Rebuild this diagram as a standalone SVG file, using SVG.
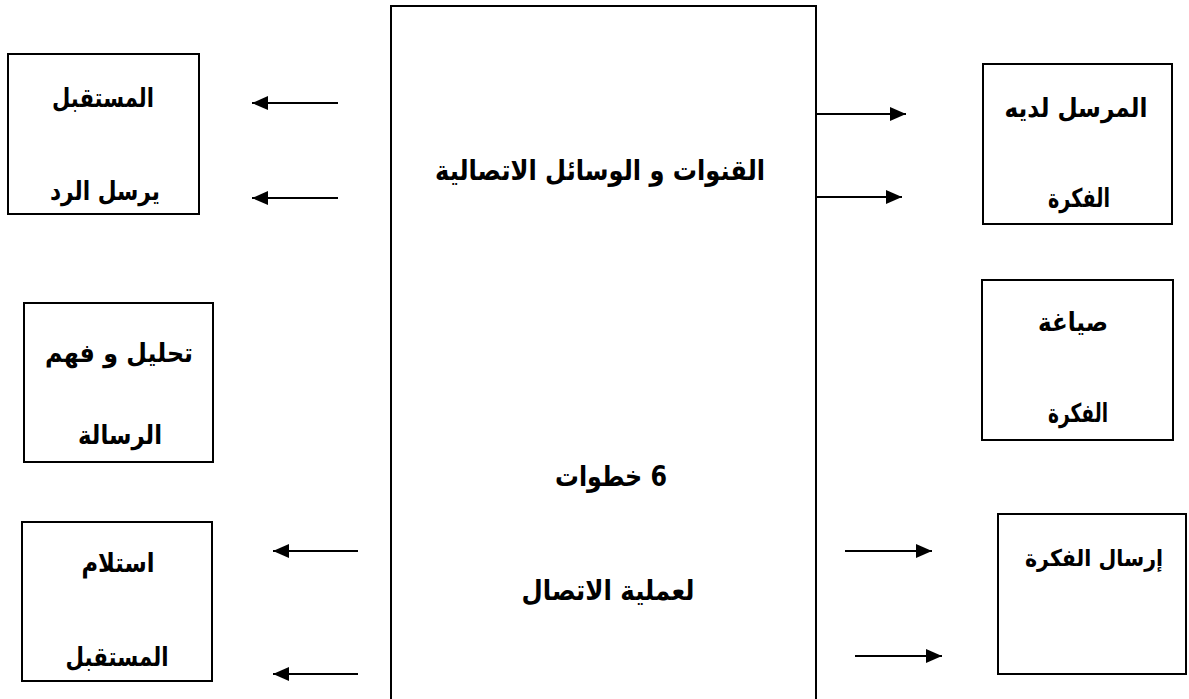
<svg xmlns="http://www.w3.org/2000/svg" width="1189" height="699" viewBox="0 0 1189 699">
  <style>
    .box { fill: #ffffff; stroke: #000000; stroke-width: 2; }
    .lbl { font-family: "DejaVu Sans", "Noto Sans", sans-serif; font-weight: bold; font-size: 26px; fill: #000000; text-anchor: middle; direction: rtl; unicode-bidi: embed; }
    .big { font-size: 28px; }
    .conn line { stroke: #000000; stroke-width: 2; marker-end: url(#head); }
  </style>
  <defs>
    <marker id="head" markerUnits="userSpaceOnUse" markerWidth="16" markerHeight="14" refX="16" refY="7" orient="auto">
      <path d="M0,0 L16,7 L0,14 Z" fill="#000000"/>
    </marker>
  </defs>
  <rect width="1189" height="699" fill="#ffffff"/>

  <!-- central channel block, open at the bottom edge -->
  <g id="channels">
    <rect class="box" x="391" y="6" width="425" height="710"/>
    <text class="lbl big" x="600" y="180" textLength="330" lengthAdjust="spacingAndGlyphs">القنوات و الوسائل الاتصالية</text>
    <text class="lbl big" x="611" y="486" textLength="112" lengthAdjust="spacingAndGlyphs">6 خطوات</text>
    <text class="lbl big" x="608" y="600" textLength="173" lengthAdjust="spacingAndGlyphs">لعملية الاتصال</text>
  </g>

  <g id="receiver-reply">
    <rect class="box" x="8" y="54" width="191" height="160"/>
    <text class="lbl" x="103" y="107" textLength="102" lengthAdjust="spacingAndGlyphs">المستقبل</text>
    <text class="lbl" x="105" y="200" textLength="110" lengthAdjust="spacingAndGlyphs">يرسل الرد</text>
  </g>

  <g id="analyse">
    <rect class="box" x="24" y="303" width="189" height="159"/>
    <text class="lbl" x="119" y="362" textLength="148" lengthAdjust="spacingAndGlyphs">تحليل و فهم</text>
    <text class="lbl" x="120" y="444" textLength="84" lengthAdjust="spacingAndGlyphs">الرسالة</text>
  </g>

  <g id="receive">
    <rect class="box" x="22" y="522" width="190" height="159"/>
    <text class="lbl" x="118" y="572" textLength="73" lengthAdjust="spacingAndGlyphs">استلام</text>
    <text class="lbl" x="117" y="666" textLength="103" lengthAdjust="spacingAndGlyphs">المستقبل</text>
  </g>

  <g id="sender">
    <rect class="box" x="983" y="64" width="189" height="160"/>
    <text class="lbl" x="1076" y="117" textLength="143" lengthAdjust="spacingAndGlyphs">المرسل لديه</text>
    <text class="lbl" x="1079" y="207" textLength="62" lengthAdjust="spacingAndGlyphs">الفكرة</text>
  </g>

  <g id="formulate">
    <rect class="box" x="982" y="280" width="191" height="160"/>
    <text class="lbl" x="1073" y="331" textLength="70" lengthAdjust="spacingAndGlyphs">صياغة</text>
    <text class="lbl" x="1078" y="422" textLength="60" lengthAdjust="spacingAndGlyphs">الفكرة</text>
  </g>

  <g id="send">
    <rect class="box" x="998" y="514" width="188" height="160"/>
    <text class="lbl" x="1094" y="566" style="font-size:23px" textLength="138" lengthAdjust="spacingAndGlyphs">إرسال الفكرة</text>
  </g>

  <g id="connectors" class="conn">
    <line x1="338" y1="103" x2="252" y2="103"/>
    <line x1="338" y1="198" x2="252" y2="198"/>
    <line x1="816" y1="114" x2="906" y2="114"/>
    <line x1="816" y1="197" x2="902" y2="197"/>
    <line x1="358" y1="551" x2="273" y2="551"/>
    <line x1="358" y1="674" x2="273" y2="674"/>
    <line x1="845" y1="551" x2="932" y2="551"/>
    <line x1="855" y1="656" x2="942" y2="656"/>
  </g>
</svg>
